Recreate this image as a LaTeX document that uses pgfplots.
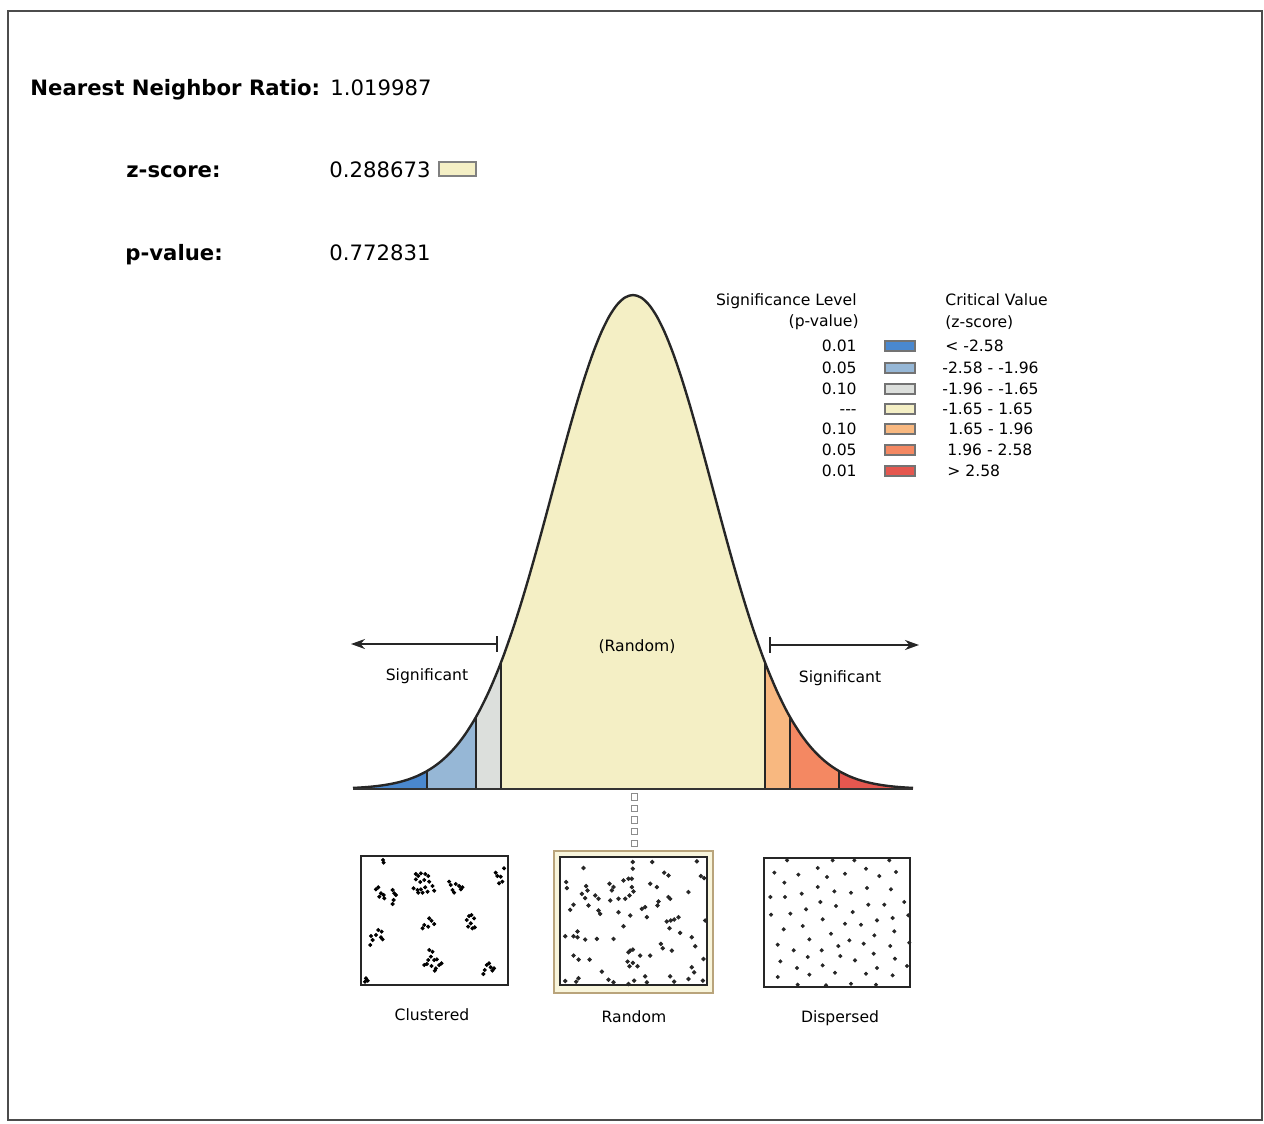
\documentclass[border=0pt]{standalone}
\usepackage{fontspec}
\setmainfont{DejaVu Sans}
\usepackage{pgfplots}
\usepackage{pgfplotstable}
\pgfplotsset{compat=1.18}
\usetikzlibrary{arrows.meta}

\definecolor{c1}{HTML}{4A88CF}
\definecolor{c2}{HTML}{96B7D6}
\definecolor{c3}{HTML}{DCDFDC}
\definecolor{c4}{HTML}{F4EFC5}
\definecolor{c5}{HTML}{F8B880}
\definecolor{c6}{HTML}{F48862}
\definecolor{c7}{HTML}{E5574F}

\pgfplotstableread{
z pdf
-3.5 0.00087
-3.4 0.00123
-3.3 0.00172
-3.2 0.00238
-3.1 0.00327
-3.0 0.00443
-2.9 0.00595
-2.8 0.00792
-2.7 0.01042
-2.6 0.01358
-2.58 0.01431
-2.5 0.01753
-2.4 0.02239
-2.3 0.02833
-2.2 0.03547
-2.1 0.04398
-2.0 0.05399
-1.96 0.05844
-1.9 0.06562
-1.8 0.07895
-1.7 0.09405
-1.65 0.10226
-1.6 0.11092
-1.5 0.12952
-1.4 0.14973
-1.3 0.17137
-1.2 0.19419
-1.1 0.21785
-1.0 0.24197
-0.9 0.26609
-0.8 0.28969
-0.7 0.31225
-0.6 0.33322
-0.5 0.35207
-0.4 0.36827
-0.3 0.38139
-0.2 0.39104
-0.1 0.39695
0.0 0.39894
0.1 0.39695
0.2 0.39104
0.3 0.38139
0.4 0.36827
0.5 0.35207
0.6 0.33322
0.7 0.31225
0.8 0.28969
0.9 0.26609
1.0 0.24197
1.1 0.21785
1.2 0.19419
1.3 0.17137
1.4 0.14973
1.5 0.12952
1.6 0.11092
1.65 0.10226
1.7 0.09405
1.8 0.07895
1.9 0.06562
1.96 0.05844
2.0 0.05399
2.1 0.04398
2.2 0.03547
2.3 0.02833
2.4 0.02239
2.5 0.01753
2.58 0.01431
2.6 0.01358
2.7 0.01042
2.8 0.00792
2.9 0.00595
3.0 0.00443
3.1 0.00327
3.2 0.00238
3.3 0.00172
3.4 0.00123
3.5 0.00087
}\curve

\newcommand{\hdr}{\fontsize{10.6}{12}\selectfont}
\newcommand{\lgf}{\fontsize{7.8}{9}\selectfont}

\pgfplotsset{dotbox/.style={scale only axis, y dir=reverse, xtick=\empty, ytick=\empty,
  axis line style={black!85,line width=1.1pt}, clip=false, anchor=center,
  axis background/.style={fill=white}}}

\begin{document}
\begin{tikzpicture}[x=0.5pt,y=-0.5pt]
\useasboundingbox (0,0) rectangle (1264,1124);
\draw[black!70, line width=0.8pt] (8,11) rectangle (1262,1120);

% header
\node[anchor=base west, inner sep=0, font=\hdr\bfseries] at (30,95) {Nearest Neighbor Ratio:};
\node[anchor=base west, inner sep=0, font=\hdr] at (330,95) {1.019987};
\node[anchor=base west, inner sep=0, font=\hdr\bfseries] at (126,177) {z-score:};
\node[anchor=base west, inner sep=0, font=\hdr] at (329,177) {0.288673};
\draw[fill=c4, draw=black!50, line width=0.8pt] (439,162) rectangle (476,176);
\node[anchor=base west, inner sep=0, font=\hdr\bfseries] at (125,260) {p-value:};
\node[anchor=base west, inner sep=0, font=\hdr] at (329,260) {0.772831};

% legend
\node[anchor=base east, inner sep=0, font=\lgf] at (857,305) {Significance Level};
\node[anchor=base east, inner sep=0, font=\lgf] at (859,326) {(p-value)};
\node[anchor=base west, inner sep=0, font=\lgf] at (945,305) {Critical Value};
\node[anchor=base west, inner sep=0, font=\lgf] at (945,327) {(z-score)};
\foreach \yy/\pv/\col/\xr/\rng in {
  346/0.01/c1/945/{< -2.58},
  368/0.05/c2/942/{-2.58 - -1.96},
  389/0.10/c3/942/{-1.96 - -1.65},
  409/{{-}{-}{-}}/c4/942/{-1.65 - 1.65},
  429/0.10/c5/948/{1.65 - 1.96},
  450/0.05/c6/947/{1.96 - 2.58},
  471/0.01/c7/947/{> 2.58}}{
  \node[anchor=base east, inner sep=0, font=\lgf] at (857,\yy+5.5) {\pv};
  \draw[fill=\col, draw=black!55, line width=0.7pt] (885,\yy-5) rectangle (915,\yy+5);
  \node[anchor=base west, inner sep=0, font=\lgf] at (\xr,\yy+5.5) {\rng};
}

% bell curve
\begin{axis}[at={(176.5pt,-394.5pt)}, anchor=south west, scale only axis,
  width=280pt, height=247.66pt, xmin=-3.5, xmax=3.5, ymin=0, ymax=0.4,
  hide axis, clip=false]
\addplot[fill=c1, draw=none] coordinates {(-3.5,0.00087) (-3.4,0.00123) (-3.3,0.00172) (-3.2,0.00238) (-3.1,0.00327) (-3.0,0.00443) (-2.9,0.00595) (-2.8,0.00792) (-2.7,0.01042) (-2.6,0.01358) (-2.58,0.01431)} \closedcycle;
\addplot[fill=c2, draw=none] coordinates {(-2.58,0.01431) (-2.5,0.01753) (-2.4,0.02239) (-2.3,0.02833) (-2.2,0.03547) (-2.1,0.04398) (-2.0,0.05399) (-1.96,0.05844)} \closedcycle;
\addplot[fill=c3, draw=none] coordinates {(-1.96,0.05844) (-1.9,0.06562) (-1.8,0.07895) (-1.7,0.09405) (-1.65,0.10226)} \closedcycle;
\addplot[fill=c4, draw=none] coordinates {(-1.65,0.10226) (-1.6,0.11092) (-1.5,0.12952) (-1.4,0.14973) (-1.3,0.17137) (-1.2,0.19419) (-1.1,0.21785) (-1.0,0.24197) (-0.9,0.26609) (-0.8,0.28969) (-0.7,0.31225) (-0.6,0.33322) (-0.5,0.35207) (-0.4,0.36827) (-0.3,0.38139) (-0.2,0.39104) (-0.1,0.39695) (0,0.39894) (0.1,0.39695) (0.2,0.39104) (0.3,0.38139) (0.4,0.36827) (0.5,0.35207) (0.6,0.33322) (0.7,0.31225) (0.8,0.28969) (0.9,0.26609) (1.0,0.24197) (1.1,0.21785) (1.2,0.19419) (1.3,0.17137) (1.4,0.14973) (1.5,0.12952) (1.6,0.11092) (1.65,0.10226)} \closedcycle;
\addplot[fill=c5, draw=none] coordinates {(1.65,0.10226) (1.7,0.09405) (1.8,0.07895) (1.9,0.06562) (1.96,0.05844)} \closedcycle;
\addplot[fill=c6, draw=none] coordinates {(1.96,0.05844) (2.0,0.05399) (2.1,0.04398) (2.2,0.03547) (2.3,0.02833) (2.4,0.02239) (2.5,0.01753) (2.58,0.01431)} \closedcycle;
\addplot[fill=c7, draw=none] coordinates {(2.58,0.01431) (2.6,0.01358) (2.7,0.01042) (2.8,0.00792) (2.9,0.00595) (3.0,0.00443) (3.1,0.00327) (3.2,0.00238) (3.3,0.00172) (3.4,0.00123) (3.5,0.00087)} \closedcycle;
% boundary lines
\addplot[black!85, line width=1pt] coordinates {(-2.58,0) (-2.58,0.01431)};
\addplot[black!85, line width=1pt] coordinates {(-1.96,0) (-1.96,0.05844)};
\addplot[black!85, line width=1pt] coordinates {(-1.65,0) (-1.65,0.10226)};
\addplot[black!85, line width=1pt] coordinates {(1.65,0) (1.65,0.10226)};
\addplot[black!85, line width=1pt] coordinates {(1.96,0) (1.96,0.05844)};
\addplot[black!85, line width=1pt] coordinates {(2.58,0) (2.58,0.01431)};
% outline and baseline
\addplot[black!85, line width=1.2pt, smooth] table[x=z,y=pdf] {\curve};
\addplot[black!80, line width=1.3pt] coordinates {(-3.5,0) (3.5,0)};
% z-score marker
\addplot[only marks, mark=square, mark size=1.6pt, black!45, line width=0.5pt] coordinates {(0.02,-0.0065) (0.02,-0.0155) (0.02,-0.0250) (0.02,-0.0345) (0.02,-0.0440)};
\end{axis}

% arrows and labels
\draw[black!85, line width=1pt, -{Stealth[length=7pt,width=5pt]}] (497,644) -- (351,644);
\draw[black!85, line width=1pt] (497,636) -- (497,652);
\draw[black!85, line width=1pt, -{Stealth[length=7pt,width=5pt]}] (770,645) -- (919,645);
\draw[black!85, line width=1pt] (770,637) -- (770,653);
\node[font=\lgf, inner sep=0] at (637,647) {(Random)};
\node[font=\lgf, inner sep=0] at (427,676) {Significant};
\node[font=\lgf, inner sep=0] at (840,678) {Significant};

% random frame
\draw[draw=black!25!c4!70!brown, fill=c4!60, line width=1.2pt] (554,851) rectangle (713,993);

% clustered
\begin{axis}[dotbox, at={(217.25pt,-460.25pt)}, width=73.5pt, height=64.5pt, xmin=20, xmax=462, ymin=18, ymax=405]
\addplot[only marks, mark=*, mark size=0.8pt, black] coordinates {
(86,30) (88,38)
(185,72) (192,78) (200,70) (213,72) (222,78) (185,88) (198,96) (210,90) (225,95) (178,115) (190,120) (200,118) (213,112) (220,125) (235,108) (240,122) (205,128) (192,128)
(285,95) (290,105) (305,102) (315,108) (320,118) (295,120) (300,128) (325,112)
(65,118) (72,112) (80,130) (88,135) (90,145) (75,140) (115,120) (120,130) (118,150) (115,162) (125,135)
(425,68) (430,78) (440,80) (435,100) (445,95) (450,55)
(225,205) (232,212) (240,222) (210,225) (205,235) (222,230)
(345,198) (352,195) (360,205) (338,210) (350,220) (342,230) (355,235) (362,232)
(50,258) (55,270) (65,255) (72,240) (80,262) (85,268) (82,245) (48,285)
(225,300) (235,305) (230,320) (240,330) (248,328) (210,345) (218,342) (232,348) (245,355) (255,345) (262,340) (242,362) (222,330)
(398,345) (405,340) (410,352) (392,360) (388,372) (415,362) (420,355)
(35,385) (40,392) (32,395)};
\end{axis}

% random
\begin{axis}[dotbox, at={(316.75pt,-460.5pt)}, width=73.3pt, height=64pt, xmin=30, xmax=470, ymin=25, ymax=408]
\addplot[only marks, mark=*, mark size=0.9pt, black!85] coordinates {
(100,58) (248,40) (306,40) (440,38) (248,60) (342,72) (355,80) (452,82) (462,88) (48,100) (50,118) (108,112) (112,125) (95,135) (105,148) (135,140) (145,150) (178,105) (185,125) (190,115) (220,95) (235,90) (245,90) (245,115) (250,128) (238,140) (300,105) (320,115) (415,130) (355,145) (360,150) (325,158) (322,170) (205,150) (180,155) (225,150) (115,170) (70,168) (60,183) (145,185) (150,195) (205,190) (275,180) (285,175) (240,200) (290,205) (385,205) (350,218) (362,215) (372,212) (358,238) (465,215) (220,232) (82,248) (45,262) (70,262) (82,265) (105,272) (140,270) (190,270) (390,252) (425,265) (435,292) (332,285) (338,298) (365,305) (240,305) (248,302) (235,310) (270,320) (300,320) (70,320) (85,332) (118,332) (232,338) (248,342) (238,352) (262,352) (460,330) (425,355) (432,370) (155,368) (85,388) (78,398) (45,396) (175,392) (190,400) (235,405) (252,395) (285,382) (290,400) (360,382) (372,398) (415,390) (458,395)};
\end{axis}

% dispersed
\begin{axis}[dotbox, at={(418.5pt,-461.25pt)}, width=73.3pt, height=64.5pt, xmin=18, xmax=458, ymin=18, ymax=405]
\addplot[only marks, mark=*, mark size=0.8pt, black!85] coordinates {
(88,25) (180,48) (225,25) (325,50) (395,25) (290,25) (50,62) (122,68) (208,75) (262,65) (365,72) (415,60) (80,92) (180,105) (230,118) (328,108) (400,112) (38,135) (82,135) (132,125) (280,122) (440,150) (188,150) (235,162) (332,158) (380,158) (40,188) (98,185) (145,172) (285,180) (195,202) (262,215) (310,218) (358,205) (405,198) (452,190) (78,232) (135,222) (220,245) (350,250) (410,238) (155,262) (275,265) (318,275) (60,278) (108,295) (192,295) (242,282) (398,282) (455,272) (150,315) (248,312) (292,325) (348,305) (412,320) (68,328) (118,348) (195,340) (358,348) (448,342) (60,375) (155,368) (232,362) (325,365) (405,370) (120,398) (205,400) (280,395) (355,398)};
\end{axis}

\node[font=\lgf, inner sep=0] at (432,1015) {Clustered};
\node[font=\lgf, inner sep=0] at (634,1017) {Random};
\node[font=\lgf, inner sep=0] at (840,1018) {Dispersed};
\end{tikzpicture}
\end{document}
